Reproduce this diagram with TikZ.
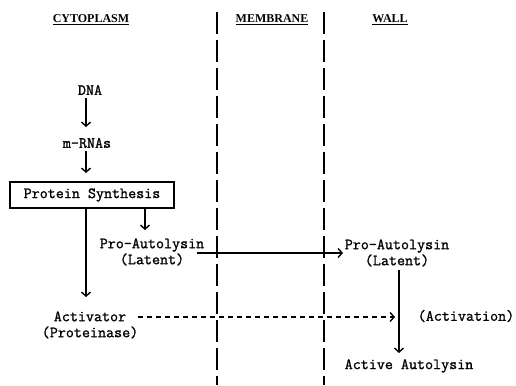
\documentclass[tikz,border=0pt]{standalone}
\usepackage{fontspec}
\setmainfont{Liberation Serif}
\newfontfamily\twfont[FakeBold=1.2]{Latin Modern Mono}
\usetikzlibrary{arrows.meta}
\begin{document}
\begin{tikzpicture}[x=1pt,y=-1pt,
  txt/.style={font={\twfont\fontsize{15.6}{16}\selectfont\bfseries}, inner sep=0pt, align=center},
  hdr/.style={font={\bfseries\fontsize{12}{14}\selectfont}, inner sep=0pt},
  boxed/.style={txt, draw, line width=1.4pt, minimum width=164pt, minimum height=26pt},
  arr/.style={line width=1.4pt, -{Straight Barb[length=4pt,width=9pt,line width=1.4pt]}},
  dasharr/.style={line width=1.4pt, dash pattern=on 5pt off 4pt, -{Straight Barb[length=4pt,width=9pt,line width=1.4pt]}},
  divider/.style={line width=1.8pt, dash pattern=on 22pt off 6pt}
]
\useasboundingbox (0,0) rectangle (516,385);
% headers
\node[hdr] (hcyt) at (91,20) {\underline{CYTOPLASM}};
\node[hdr] (hmem) at (272,20) {\underline{MEMBRANE}};
\node[hdr] (hwall) at (390,20) {\underline{WALL}};
% dividers
\coordinate (d1t) at (217,12);
\coordinate (d1b) at (217,385);
\coordinate (d2t) at (324,12);
\coordinate (d2b) at (324,385);
\draw[divider] (d1t) -- (d1b);
\draw[divider] (d2t) -- (d2b);
% nodes
\node[txt] (dna) at (90,90) {DNA};
\node[txt] (mrna) at (87,143) {m-RNAs};
\node[boxed] (ps) at (92,195) {Protein Synthesis};
\node[txt] (pal) at (152,252) {Pro-Autolysin\\(Latent)};
\node[txt] (act) at (90,325) {Activator\\(Proteinase)};
\node[txt] (par) at (397,253) {Pro-Autolysin\\(Latent)};
\node[txt] (actv) at (466,316) {(Activation)};
\node[txt] (aa) at (409,366) {Active Autolysin};
% connectors
\draw[arr] (dna.south -| 86,0) ++(0,3) -- (86,127);
\draw[arr] (mrna.south -| 86,0) ++(0,3) -- (86,173);
\draw[arr] (ps.south -| 145,0) -- (145,230);
\draw[arr] (ps.south -| 86,0) -- (86,297);
\coordinate (hs) at (197,253);
\draw[arr] (hs) -- (343,253);
\draw[arr] (par.south -| 399,0) ++(0,3) -- (399,353);
\coordinate (ds) at (138,317);
\draw[dasharr] (ds) -- (395,317);
\end{tikzpicture}
\end{document}
